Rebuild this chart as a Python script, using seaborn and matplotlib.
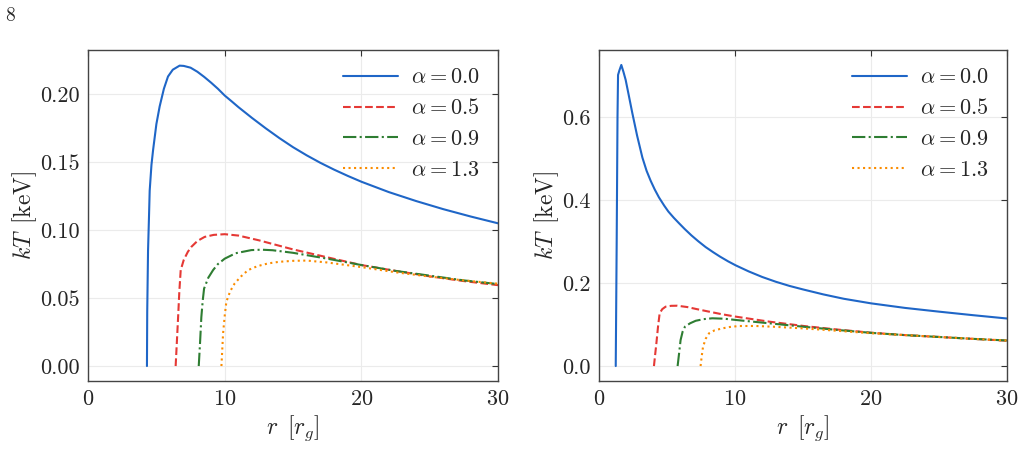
import matplotlib
matplotlib.use("Agg")
import matplotlib.pyplot as plt
import seaborn as sns
from matplotlib.ticker import FormatStrFormatter

# left panel data
l_r0 = [4.31, 4.33, 4.39, 4.46, 4.51, 4.64, 4.76, 5.0, 5.24, 5.55, 5.85, 6.2, 6.7, 7.0, 7.5, 8.0, 8.5,
        9.0, 9.5, 10.0, 10.5, 11.0, 12.0, 13.0, 14.0, 15.0, 16.0, 17.0, 18.0, 19.0, 20.0, 22.0, 24.0,
        26.0, 28.0, 30.0]
l_k0 = [0.0, 0.04, 0.085, 0.110, 0.129, 0.148, 0.159, 0.178, 0.191, 0.204, 0.213, 0.218, 0.221, 0.2208,
        0.2195, 0.2165, 0.2127, 0.2085, 0.204, 0.199, 0.1948, 0.1905, 0.1825, 0.1749, 0.1677, 0.1610,
        0.1550, 0.1495, 0.1445, 0.1399, 0.1356, 0.1280, 0.1214, 0.1154, 0.1100, 0.1050]
l_r1 = [6.41, 6.5, 6.59, 6.68, 6.78, 7.0, 7.3, 7.56, 8.0, 8.53, 9.2, 10.0, 11.0, 12.5, 15.0, 17.5,
        20.0, 22.5, 25.0, 27.5, 30.0]
l_k1 = [0.0, 0.018, 0.036, 0.055, 0.0706, 0.078, 0.084, 0.0877, 0.092, 0.095, 0.0965, 0.097, 0.096,
        0.0925, 0.0858, 0.080, 0.0743, 0.070, 0.066, 0.0625, 0.0595]
l_r2 = [8.10, 8.2, 8.29, 8.39, 8.49, 8.8, 9.15, 9.5, 10.0, 10.8, 11.95, 12.7, 13.5, 15.0, 17.5, 20.0,
        22.5, 25.0, 27.5, 30.0]
l_k2 = [0.0, 0.018, 0.036, 0.048, 0.057, 0.065, 0.0706, 0.075, 0.079, 0.083, 0.0853, 0.0856, 0.0852,
        0.0833, 0.079, 0.0743, 0.070, 0.0665, 0.063, 0.0603]
l_r3 = [9.76, 9.82, 9.88, 10.0, 10.12, 10.4, 10.73, 11.2, 11.71, 12.4, 13.17, 14.0, 15.0, 16.0, 17.5,
        20.0, 22.5, 25.0, 27.5, 30.0]
l_k3 = [0.0, 0.012, 0.024, 0.037, 0.0473, 0.055, 0.0608, 0.066, 0.0706, 0.0735, 0.0755, 0.0767, 0.0774,
        0.0776, 0.0762, 0.0728, 0.069, 0.0658, 0.063, 0.0606]

# right panel data
r_r0 = [1.23, 1.30, 1.36, 1.40, 1.5, 1.64, 1.8, 1.96, 2.2, 2.45, 2.8, 3.19, 3.5, 3.8, 4.1, 4.41, 4.8,
        5.1, 5.5, 5.88, 6.3, 6.8, 7.3, 7.84, 8.4, 8.9, 9.5, 10.05, 11.0, 12.0, 13.0, 14.0, 15.0, 16.5,
        18.0, 20.0, 22.5, 25.0, 27.5, 30.0]
r_k0 = [0.0, 0.30, 0.60, 0.701, 0.712, 0.725, 0.708, 0.689, 0.650, 0.609, 0.555, 0.502, 0.470, 0.446,
        0.425, 0.406, 0.386, 0.372, 0.357, 0.344, 0.330, 0.3145, 0.3005, 0.2865, 0.274, 0.2635, 0.252,
        0.2425, 0.228, 0.2145, 0.203, 0.193, 0.1845, 0.1725, 0.162, 0.151, 0.140, 0.131, 0.1225, 0.1145]
r_r1 = [4.04, 4.13, 4.22, 4.34, 4.46, 4.65, 4.90, 5.3, 5.76, 6.5, 7.2, 8.09, 9.0, 10.05, 12.5, 15.07,
        17.5, 20.0, 22.5, 25.0, 27.5, 30.0]
r_k1 = [0.0, 0.028, 0.055, 0.095, 0.127, 0.137, 0.143, 0.145, 0.1453, 0.142, 0.137, 0.131, 0.125,
        0.119, 0.107, 0.0964, 0.088, 0.0803, 0.0745, 0.070, 0.0655, 0.061]
r_r2 = [5.78, 5.89, 6.0, 6.15, 6.32, 6.7, 7.11, 7.7, 8.33, 9.2, 10.05, 12.5, 15.0, 17.5, 20.0, 22.5,
        25.0, 27.5, 30.0]
r_k2 = [0.0, 0.031, 0.0627, 0.083, 0.0948, 0.103, 0.109, 0.113, 0.115, 0.114, 0.111, 0.103, 0.0948,
        0.087, 0.080, 0.0745, 0.070, 0.0655, 0.0615]
r_r3 = [7.47, 7.55, 7.65, 7.85, 8.09, 8.5, 9.07, 9.6, 10.29, 11.5, 12.75, 15.0, 17.5, 20.0, 22.5, 25.0,
        27.5, 30.0]
r_k3 = [0.0, 0.023, 0.0466, 0.066, 0.0788, 0.086, 0.0907, 0.094, 0.0964, 0.0965, 0.0948, 0.0907, 0.085,
        0.079, 0.0745, 0.070, 0.0655, 0.0615]

labels = [r'$\alpha = 0.0$', r'$\alpha = 0.5$', r'$\alpha = 0.9$', r'$\alpha = 1.3$']
colors = ['#1f66c7', '#e53935', '#2e7d32', '#fb8c00']
styles = ['-', '--', '-.', ':']

sns.set_theme(style='whitegrid')
plt.rcParams['font.family'] = ['serif']
plt.rcParams['font.serif'] = ['cmr10', 'DejaVu Serif']
plt.rcParams['mathtext.fontset'] = 'cm'
plt.rcParams['axes.formatter.use_mathtext'] = True
plt.rcParams['axes.unicode_minus'] = False

fig = plt.figure(figsize=(10.25, 4.66), dpi=100)
ax1 = fig.add_axes([0.0859, 0.1824, 0.4, 0.7103])
ax2 = fig.add_axes([0.5844, 0.1824, 0.398, 0.7103])

left = [(l_r0, l_k0), (l_r1, l_k1), (l_r2, l_k2), (l_r3, l_k3)]
right = [(r_r0, r_k0), (r_r1, r_k1), (r_r2, r_k2), (r_r3, r_k3)]

for ax, series in [(ax1, left), (ax2, right)]:
    for (x, y), lab, c, ls in zip(series, labels, colors, styles):
        sns.lineplot(x=x, y=y, ax=ax, color=c, linestyle=ls, linewidth=1.5,
                     label=lab, sort=False, estimator=None)
    ax.set_xlim(0, 30)
    ax.set_xticks([0, 10, 20, 30])
    ax.set_xlabel(r'$r\enspace[r_g]$', fontsize=17, labelpad=3)
    ax.set_ylabel(r'$kT\enspace[\mathrm{keV}]$', fontsize=17, labelpad=1)
    ax.grid(True, color='#ebebeb', linewidth=0.8)
    ax.tick_params(direction='in', top=True, right=True, length=4, width=0.8,
                   color='#333333', labelsize=16, pad=6)
    for sp in ax.spines.values():
        sp.set_color('#444444')
        sp.set_linewidth(1.0)
    ax.legend(loc='upper right', frameon=False, fontsize=16, handlelength=2.5,
              handletextpad=0.6, labelspacing=0.5, borderaxespad=0.4)

ax1.set_ylim(-0.011, 0.2325)
ax1.set_yticks([0.0, 0.05, 0.10, 0.15, 0.20])
ax1.yaxis.set_major_formatter(FormatStrFormatter('%.2f'))
ax2.set_ylim(-0.036, 0.761)
ax2.set_yticks([0.0, 0.2, 0.4, 0.6])
ax2.yaxis.set_major_formatter(FormatStrFormatter('%.1f'))

fig.text(0.005, 0.985, '8', fontsize=14, va='top', ha='left')

fig.savefig('out.png', dpi=100)
